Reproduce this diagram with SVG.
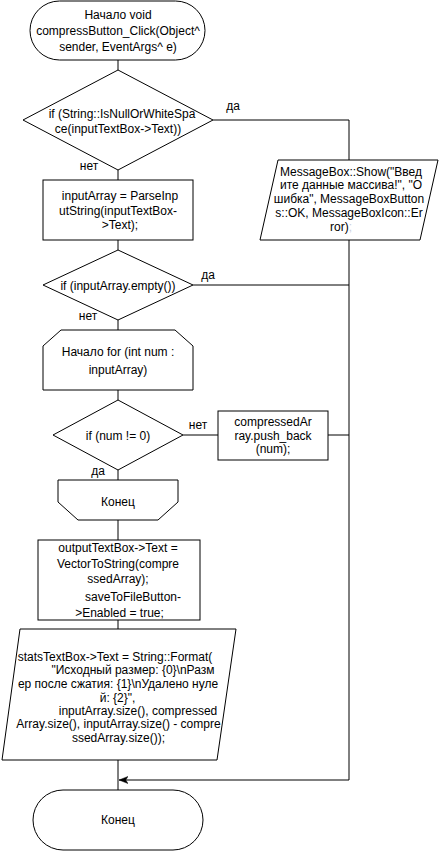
<svg xmlns="http://www.w3.org/2000/svg" width="439" height="851" viewBox="0 0 439 851">
<style>
.s{fill:#fff;stroke:#000;stroke-width:1}
.c{fill:none;stroke:#000;stroke-width:1}
text{font-family:"Liberation Sans",Arial,sans-serif;font-size:12px;fill:#000;text-anchor:middle}
.f{fill:#c8d0e0}
</style>
<defs>
<marker id="arr" viewBox="0 0 10 10" refX="10" refY="5" markerWidth="9" markerHeight="9" markerUnits="userSpaceOnUse" orient="auto">
<path d="M0,1 L10,5 L0,9 L2.5,5 Z" fill="#000" stroke="#000" stroke-width="0.5"/>
</marker>
</defs>
<rect width="439" height="851" fill="#fff"/>
<g id="connectors">
<path class="c" d="M118,60 V70"/>
<path class="c" d="M118,170 V180"/>
<path class="c" d="M118,240 V250"/>
<path class="c" d="M118,320 V330"/>
<path class="c" d="M118,390 V400"/>
<path class="c" d="M118,470 V480"/>
<path class="c" d="M118,520 V540"/>
<path class="c" d="M118,620 V629"/>
<path class="c" d="M118,760 V790"/>
<path class="c" d="M213,120 H349 V160"/>
<path class="c" d="M193,285 H349"/>
<path class="c" d="M183,435 H218"/>
<path class="c" d="M328,435 H349"/>
<path class="c" d="M349,240 V780 H119" marker-end="url(#arr)"/>
<text x="233" y="110">да</text>
<text x="89" y="170">нет</text>
<text x="208" y="279">да</text>
<text x="88" y="320">нет</text>
<text x="198" y="429">нет</text>
<text x="98" y="475">да</text>
</g>
<g id="start">
<rect class="s" x="30" y="1" width="175" height="59" rx="29.5"/>
<text x="118" y="19">Начало void</text>
<text x="118" y="35">compressButton_Click(Object^</text>
<text x="118" y="51">sender, EventArgs^ e)</text>
</g>
<g id="if1">
<polygon class="s" points="118,70 213,120 118,170 23,120"/>
<text x="122" y="117.5">if (String::IsNullOrWhiteSpa</text>
<text x="118" y="132.5">ce(inputTextBox-&gt;Text))</text>
</g>
<g id="msgbox">
<polygon class="s" points="278,160 438,160 420,240 260,240"/>
<text x="351" y="175.5">MessageBox::Show("Введ</text>
<text x="351" y="189.3">ите данные массива!", "О</text>
<text x="349" y="203.1">шибка", MessageBoxButton</text>
<text x="349" y="216.9">s::OK, MessageBoxIcon::Er</text>
<text x="341" y="230.7">ror)<tspan class="f">;</tspan></text>
</g>
<g id="parse">
<rect class="s" x="43" y="180" width="150" height="60"/>
<text x="120" y="200">inputArray = ParseInp</text>
<text x="118" y="214.5">utString(inputTextBox-</text>
<text x="120" y="229">&gt;Text);</text>
</g>
<g id="if2">
<polygon class="s" points="118,250 193,285 118,320 43,285"/>
<text x="118" y="289.5">if (inputArray.empty())</text>
</g>
<g id="loopstart">
<polygon class="s" points="61,330 175,330 193,346 193,390 43,390 43,346"/>
<text x="118" y="356">Начало for (int num :</text>
<text x="118" y="373.5">inputArray)</text>
</g>
<g id="if3">
<polygon class="s" points="118,400 183,435 118,470 53,435"/>
<text x="118" y="439.5">if (num != 0)</text>
</g>
<g id="push">
<rect class="s" x="218" y="411" width="110" height="49"/>
<text x="273" y="426">compressedAr</text>
<text x="273" y="439.5">ray.push_back</text>
<text x="273" y="453">(num);</text>
</g>
<g id="loopend">
<polygon class="s" points="58,480 178,480 178,502 158,520 78,520 58,502"/>
<text x="118" y="506">Конец</text>
</g>
<g id="output">
<rect class="s" x="38" y="540" width="162" height="80"/>
<text x="118" y="552.3">outputTextBox-&gt;Text =</text>
<text x="118" y="567.8">VectorToString(compre</text>
<text x="118" y="583.2">ssedArray);</text>
<text x="133" y="601.2">saveToFileButton-</text>
<text x="119.5" y="617">&gt;Enabled = true;</text>
</g>
<g id="stats">
<polygon class="s" points="20,629 236,629 217,760 2,760"/>
<text x="115" y="660.5">statsTextBox-&gt;Text = String::Format(</text>
<text x="133" y="674">"Исходный размер: {0}\nРазм</text>
<text x="118" y="688">ер после сжатия: {1}\nУдалено нуле</text>
<text x="117.5" y="702">й: {2}",</text>
<text x="138" y="714.5">inputArray.size(), compressed</text>
<text x="118.5" y="728">Array.size(), inputArray.size() - compre</text>
<text x="118.5" y="742">ssedArray.size());</text>
</g>
<g id="end">
<rect class="s" x="33" y="790" width="170" height="60" rx="30"/>
<text x="118" y="824">Конец</text>
</g>
</svg>
